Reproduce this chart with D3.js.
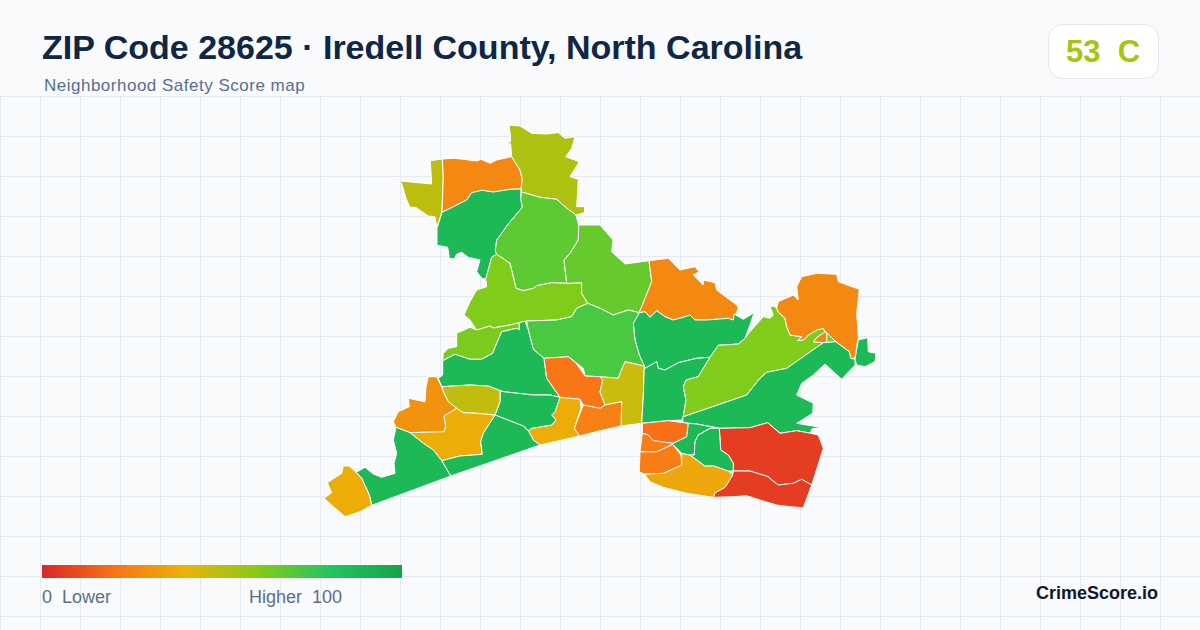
<!DOCTYPE html>
<html lang="en">
<head>
<meta charset="UTF-8">
<title>ZIP Code 28625</title>
<script src="https://cdn.jsdelivr.net/npm/d3@7"></script>
<style>
    html, body { margin: 0; padding: 0; background: #f8fafc; }
    svg { display: block; font-family: "Liberation Sans", Arial, sans-serif; }
</style>
</head>
<body>
<div id="chart"></div>
<script>
// colour ramp of the legend
const rampStops = [0, 20, 40, 60, 80, 100];
const rampColors = ["#dc2626", "#f97316", "#eab308", "#84cc16", "#22c55e", "#16a34a"];

// neighbourhood scores, same order as the outlines below
const scores = [49, 27, 52, 87, 68, 61, 66, 27, 87, 72, 62, 87, 21, 46, 24, 38, 87, 48, 30, 38, 87, 87, 38, 87, 61, 61, 27, 27, 87, 87, 6, 6, 36, 23, 19, 23, 87, 87];

// outlines in map units
const outlines = [
  [[395.3,179],[400,181],[431.7,184],[430.3,160.7],[442.3,159],[443.3,176.7],[442,212.3],[436.7,227.3],[435,216.7],[428.3,216],[415.7,207.3],[410,207.3],[406,198.3],[401.7,183.3]],
  [[442.3,159],[453.3,158.3],[463.3,159.3],[476.7,161],[481,159.3],[490,163.3],[496.7,160],[511.7,156.7],[520,170],[522.3,179.3],[521,189],[510,189.3],[493.3,192],[481.7,190.3],[471.7,192.7],[466.7,200],[456.7,205],[448.3,209.3],[442,212.3],[443.3,176.7]],
  [[509,125],[520,126],[531.7,133.3],[546.7,134],[558.3,132.7],[565,138.3],[575,136.7],[571.7,148.3],[565.7,156.7],[579.3,161.7],[570,176.7],[578.3,179.3],[576.7,206.7],[585,206.7],[584.3,212.7],[576,215],[566.7,208.3],[556.7,199.3],[540,197.3],[521.7,192],[521,189],[522.3,179.3],[520,170],[511.7,156.7],[510.7,144],[503.3,140.5],[510.5,142],[510.3,134]],
  [[442,212.3],[448.3,209.3],[456.7,205],[466.7,200],[471.7,192.7],[481.7,190.3],[493.3,192],[510,189.3],[521,189],[520.7,198.3],[522.3,207.3],[508.3,224],[496.7,240],[495.3,250.7],[496.7,254.3],[491.7,257.3],[485.7,279.3],[481.7,278.3],[476.7,271.7],[480,260],[468.3,257.3],[461.7,252.3],[456.7,254],[454.3,259],[449.3,258.3],[447.7,247.3],[437,245.3],[437,228.3]],
  [[521.7,192],[540,197.3],[556.7,199.3],[566.7,208.3],[576,215],[578.7,223.3],[578.3,240],[570,253.3],[564,260],[566.7,283.3],[551.7,282.7],[536.7,285.7],[533.3,288.3],[523.3,290.7],[516,288.3],[510,263.3],[496.7,254.3],[495.3,250.7],[496.7,240],[508.3,224],[522.3,207.3],[520.7,198.3]],
  [[496.7,254.3],[510,263.3],[516,288.3],[523.3,290.7],[533.3,288.3],[536.7,285.7],[551.7,282.7],[566.7,283.3],[581.7,282.7],[581.7,293.3],[587.7,303.3],[576.7,308.3],[571.7,316.7],[556.7,320],[526.7,321],[519.3,322.7],[510,325],[493,328],[490,326],[476.7,330],[470,320],[464,315],[470,301.7],[476.7,290],[486.7,286.7],[485.7,279.3],[491.7,257.3]],
  [[576,215],[578.7,225],[600,225],[613,240],[611.7,251.7],[625,264],[649,260.7],[651.7,281.7],[639.3,312.7],[628.3,310],[613.3,315],[600,308.3],[587.7,303.3],[581.7,293.3],[581.7,282.7],[566.7,283.3],[564,260],[570,253.3],[578.3,240],[578.7,223.3]],
  [[649,260.7],[668.3,258.3],[680,270],[695,266.7],[699,271.7],[693.3,275],[703.3,285],[703.3,280],[715,282.7],[716.7,290],[736.7,305],[738.3,308.3],[733.3,320],[728.3,318.3],[706.7,320],[695,320],[690,315],[683.3,317.3],[673.3,320],[665,316.7],[656.7,310.7],[650,317.3],[645,311.7],[639.3,312.7],[651.7,281.7]],
  [[639.3,312.7],[645,311.7],[650,317.3],[656.7,310.7],[665,316.7],[673.3,320],[683.3,317.3],[690,315],[695,320],[706.7,320],[728.3,318.3],[733.3,320],[734,314],[743.3,319.3],[754,312.7],[750,325],[745,338.3],[738.3,344],[718.3,345.3],[710,357.3],[696.7,358.3],[678.3,362.7],[665,370],[658.3,368.3],[656.7,361.7],[645,368.3],[639.3,355],[635,340],[633.3,323.3]],
  [[526.7,321],[556.7,320],[571.7,316.7],[576.7,308.3],[587.7,303.3],[600,308.3],[613.3,315],[628.3,310],[639.3,312.7],[633.3,323.3],[635,340],[639.3,355],[644.3,366],[625,361.7],[620,373.3],[618.3,378.3],[600,376.7],[585,376],[583.3,368.3],[568.3,356.7],[544,358.3],[533.3,349.3],[528.3,330]],
  [[456.7,333.3],[470,327.3],[476.7,330],[490,326],[493,328],[510,325],[519.3,322.7],[519.3,330],[516.7,328.3],[501.7,331.7],[496.7,343.3],[492.7,353.3],[481.7,359.3],[470,359.3],[455,354.3],[442.7,360.7],[443.3,353.3],[448.3,348.3],[456.7,346.7]],
  [[442.7,360.7],[455,354.3],[470,359.3],[481.7,359.3],[492.7,353.3],[496.7,343.3],[501.7,331.7],[516.7,328.3],[519.3,330],[519.3,322.7],[525,321],[528.3,330],[533.3,349.3],[544,358.3],[546.7,378.3],[560,397.3],[550,395],[533.3,395],[503.3,391.7],[488.3,386],[470,385],[441.7,386.7],[438.3,378.3],[442.7,375]],
  [[544,358.3],[568.3,356.7],[576,363],[585,376],[600,376.7],[602.7,380],[600,392],[605,405],[600,408.3],[583.3,405],[580,399.3],[560,397.3],[546.7,378.3]],
  [[625,361.7],[644.3,366],[643.3,396.7],[641.7,423.3],[621,426],[621.7,401.7],[605,405],[600,392],[602.7,380],[600,376.7],[618.3,378.3],[620,373.3]],
  [[583.3,405],[600,408.3],[605,405],[621.7,401.7],[621,426],[600,430.7],[579.3,436],[574.3,428.3]],
  [[560,397.3],[580,399.3],[581,408.3],[574.3,428.3],[579.3,436],[540,445],[533.3,440],[528.3,430.7],[531.7,428.3],[551.7,425],[556,420],[551.7,415],[555,411.7]],
  [[500,390.7],[503.3,391.7],[533.3,395],[550,395],[560,397.3],[555,411.7],[551.7,415],[556,420],[551.7,425],[531.7,428.3],[528.3,430.7],[523.3,426],[495,415],[500,401.7]],
  [[441.7,386.7],[470,385],[488.3,386],[500,390.7],[500,401.7],[495,415],[476.7,413.3],[463.3,412.7],[456.7,408.3],[448.3,401.7],[444,393.3]],
  [[428.3,376.7],[436.7,376.7],[441.7,386.7],[444,393.3],[448.3,401.7],[456.7,408.3],[444,416],[445.7,426.7],[444,431.7],[410,432.7],[396,427.3],[393.3,421.7],[398.3,411.7],[409.3,406.7],[408.3,398.3],[425,401.7],[426,386.7]],
  [[456.7,408.3],[463.3,412.7],[476.7,413.3],[495,415],[483.3,433.3],[480.7,441.7],[482.3,454.3],[460,456],[441.7,460.7],[433.3,450],[423.3,443.3],[410,432.7],[444,431.7],[445.7,426.7],[444,416]],
  [[495,415],[523.3,426],[528.3,430.7],[533.3,440],[540,445],[450.7,476],[441.7,460.7],[460,456],[482.3,454.3],[480.7,441.7],[483.3,433.3]],
  [[396,427.3],[410,432.7],[423.3,443.3],[433.3,450],[441.7,460.7],[450.7,476],[371.7,505.3],[369.3,495],[361.7,478.3],[356,472.3],[365,467.3],[373.3,474],[381.7,477.3],[395,473.3],[394,463.3],[396.7,453.3],[393.3,440]],
  [[343.3,466],[349.3,466],[356,472.3],[361.7,478.3],[369.3,495],[371.7,505.3],[360,511.7],[345,516.7],[324,498.3],[331.7,492.7],[327.3,482.7],[341.7,473.3]],
  [[644.3,366],[645,368.3],[656.7,361.7],[658.3,368.3],[665,370],[678.3,362.7],[696.7,358.3],[710,357.3],[703.3,368.3],[698.3,376.7],[686,380],[683.3,386.7],[686,400],[682.7,420],[668.3,420.7],[641.7,423.3],[643.3,396.7]],
  [[718.3,345.3],[738.3,344],[745,338.3],[750,331.7],[763.3,316.7],[770,318.3],[773.3,315],[770,306.7],[774,306],[776.7,308.3],[778.3,312],[785,318.3],[786.7,326.7],[790,335],[801.7,336.7],[797.7,340.7],[803.3,340],[808.3,335],[816.7,330],[823.3,328.3],[825,331.7],[816.7,337.7],[813.3,341.7],[823.3,342.7],[786.7,368.3],[766.7,372.3],[760,378.3],[746.7,395],[683.3,416.7],[686,400],[683.3,386.7],[686,380],[698.3,376.7],[703.3,368.3],[710,357.3]],
  [[826.7,332.7],[835.7,341.7],[826.7,342.7]],
  [[813.3,341.7],[816.7,337.7],[825,331.7],[826.7,332.7],[826.7,342.7],[823.3,342.7]],
  [[778.3,301.7],[793.3,295],[798.3,300],[796.7,286.7],[801.7,276.7],[816.7,273.3],[836.7,274.3],[838.3,281.7],[859.3,289.3],[856.7,313.3],[858.3,336.7],[855,358.3],[850.7,358.3],[849.3,351.7],[835.7,341.7],[826.7,332.7],[825,331.7],[823.3,328.3],[816.7,330],[808.3,335],[803.3,340],[797.7,340.7],[801.7,336.7],[790,335],[786.7,326.7],[785,318.3],[778.3,312],[776.7,308.3]],
  [[858.3,340],[867.7,337.7],[868.3,351.7],[876,353.3],[875,361.7],[865,366.7],[856.7,365],[855,359.3]],
  [[682.7,417],[746.7,395],[760,378.3],[766.7,372.3],[786.7,368.3],[823.3,342.7],[835.7,341.7],[849.3,351.7],[850.7,358.3],[855,359.3],[855,365],[841.7,379.3],[825,364],[813.3,375],[801.7,383.3],[796.7,395],[813.3,403.3],[812.7,413.3],[796.7,423.3],[821,427.3],[811.7,429],[810.7,433.3],[796.7,430.7],[780,433.3],[767.7,422.7],[750,427.7],[719.3,428.3],[696.7,424],[683.3,422.7],[682.7,420]],
  [[719.3,428.3],[750,427.7],[767.7,422.7],[780,433.3],[796.7,430.7],[810.7,433.3],[818.3,435],[823.3,448.3],[811.7,485],[801.7,479.3],[793.3,483.3],[778.3,485],[771.7,480],[768.3,476.7],[750,471],[733.3,471],[733.3,463.3],[728.3,455],[720.7,450]],
  [[733.3,471],[750,471],[768.3,476.7],[771.7,480],[778.3,485],[793.3,483.3],[801.7,479.3],[811.7,485],[803.3,507.7],[790,506.7],[776.7,505],[760,500],[746.7,495.7],[733.3,496.7],[713.3,497.3],[715,492.7],[725,487.3],[732.7,475]],
  [[681.7,453.3],[690,455],[705,466],[713.3,465.7],[728.3,471],[732.7,475],[725,487.3],[715,492.7],[713.3,497.3],[686.7,493.3],[663.3,487.3],[650,481.7],[644.3,474],[663.3,473.3],[681.7,465]],
  [[639.3,472],[640,451.7],[656.7,451.7],[672.7,444.3],[681,455],[681.7,465],[663.3,473.3],[644.3,474]],
  [[642.3,423.3],[668.3,420.7],[688.3,423.3],[686.7,436.7],[673.3,443.3],[653.3,440.7],[648.3,435],[642.3,433.3]],
  [[642.3,433.3],[648.3,435],[653.3,440.7],[673.3,443.3],[672.7,444.3],[656.7,451.7],[640,451.7]],
  [[688.3,423.3],[696.7,424],[719.3,428.3],[710,428.3],[698.3,435],[695,441.7],[694.3,455],[690,455],[681.7,453.3],[672.7,444.3],[673.3,443.3],[686.7,436.7]],
  [[710,428.3],[719.3,428.3],[720.7,450],[728.3,455],[733.3,463.3],[733.3,471],[728.3,471],[713.3,465.7],[705,466],[690,455],[694.3,455],[695,441.7],[698.3,435]]
];

const titleText = "ZIP Code 28625 · Iredell County, North Carolina";
const subtitleText = "Neighborhood Safety Score map";
const overallScore = 53;
const overallGrade = "C";
const legendLow = "0  Lower";
const legendHigh = "Higher  100";
const brandText = "CrimeScore.io";

const width = 1200, height = 630;

const svg = d3.select("#chart").append("svg")
    .attr("width", width)
    .attr("height", height)
    .attr("viewBox", [0, 0, width, height]);

svg.append("rect").attr("width", width).attr("height", height).attr("fill", "#f8fafc");

// background grid
const grid = svg.append("g").attr("stroke", "#e4ecf1").attr("stroke-width", 1);
grid.selectAll(".v").data(d3.range(0.5, width, 40)).join("line")
    .attr("x1", d => d).attr("x2", d => d).attr("y1", 96).attr("y2", height);
grid.selectAll(".h").data(d3.range(96.5, height, 40)).join("line")
    .attr("x1", 0).attr("x2", width).attr("y1", d => d).attr("y2", d => d);

// title block
svg.append("text").attr("x", 42).attr("y", 59)
    .attr("font-size", 34).attr("font-weight", 700).attr("fill", "#0f2744")
    .text(titleText);
svg.append("text").attr("x", 44).attr("y", 91)
    .attr("font-size", 17).attr("letter-spacing", 0.5).attr("fill", "#56708f")
    .text(subtitleText);

// map
const color = d3.scaleLinear().domain(rampStops).range(rampColors);
const path = d3.geoPath(d3.geoIdentity());
const features = outlines.map((ring, i) => ({
    type: "Feature",
    properties: { score: scores[i] },
    geometry: { type: "Polygon", coordinates: [ring.concat([ring[0]])] }
}));

svg.append("g").selectAll("path").data(features).join("path")
    .attr("d", path)
    .attr("fill", d => color(d.properties.score))
    .attr("stroke", "#ffffff")
    .attr("stroke-width", 1)
    .attr("stroke-linejoin", "round");

// score chip
svg.append("rect").attr("x", 1048.5).attr("y", 24.5).attr("width", 110).attr("height", 54).attr("rx", 14)
    .attr("fill", "#ffffff").attr("stroke", "#e2e8f0");
svg.append("text").attr("x", 1103).attr("y", 62).attr("text-anchor", "middle")
    .attr("font-size", 31).attr("font-weight", 700).attr("fill", color(overallScore))
    .style("white-space", "pre")
    .text(overallScore + "  " + overallGrade);

// legend
const defs = svg.append("defs");
const legendScale = d3.scaleLinear().domain([0, 100]).range([42, 402]);
const grad = defs.append("linearGradient").attr("id", "ramp");
grad.selectAll("stop").data(rampStops).join("stop")
    .attr("offset", d => d + "%")
    .attr("stop-color", d => color(d));
svg.append("rect").attr("x", legendScale(0)).attr("y", 565)
    .attr("width", legendScale(100) - legendScale(0)).attr("height", 13)
    .attr("fill", "url(#ramp)");
svg.append("text").attr("x", 42).attr("y", 603)
    .attr("font-size", 18).attr("fill", "#5b6f8a").style("white-space", "pre").text(legendLow);
svg.append("text").attr("x", 249).attr("y", 603)
    .attr("font-size", 18).attr("fill", "#5b6f8a").style("white-space", "pre").text(legendHigh);

svg.append("text").attr("x", 1158).attr("y", 599).attr("text-anchor", "end")
    .attr("font-size", 18).attr("font-weight", 700).attr("fill", "#0f172a")
    .text(brandText);
</script>
</body>
</html>
